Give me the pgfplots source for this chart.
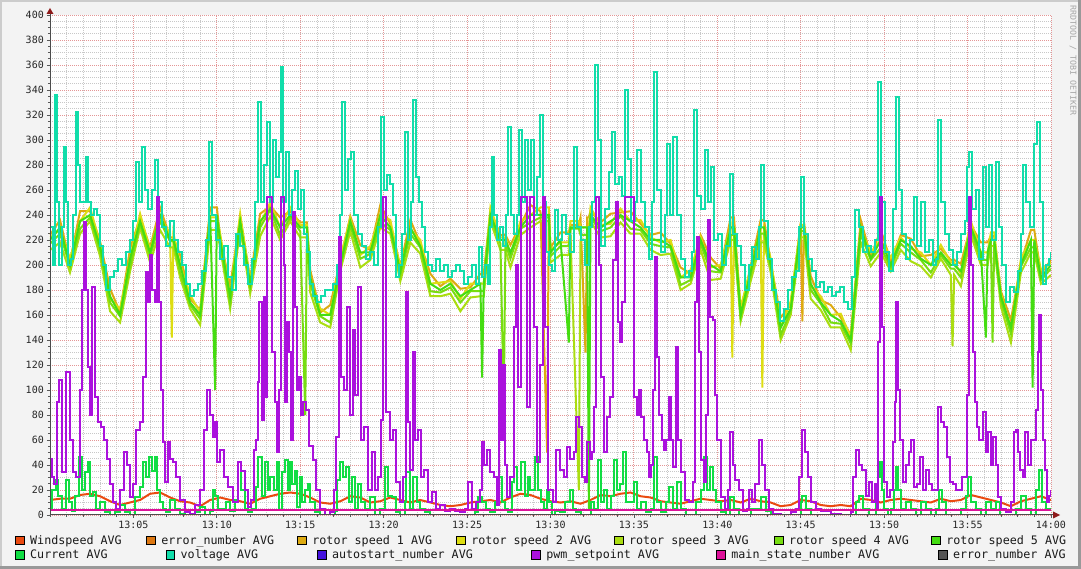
\documentclass[border=0pt]{standalone}
\usepackage{pgfplots}
\pgfplotsset{compat=1.18}
\usepackage{pgfplotstable}
\usepackage{fontspec}
\setmonofont{DejaVu Sans Mono}
\definecolor{cBg}{HTML}{F3F3F3}
\definecolor{cWind}{HTML}{EA4A10}
\definecolor{cErrA}{HTML}{DD7711}
\definecolor{cR1}{HTML}{DDAA11}
\definecolor{cR2}{HTML}{DDDD11}
\definecolor{cR3}{HTML}{AADD11}
\definecolor{cR4}{HTML}{77DD11}
\definecolor{cR5}{HTML}{44DD11}
\definecolor{cCur}{HTML}{11DD44}
\definecolor{cVolt}{HTML}{11DDAA}
\definecolor{cAuto}{HTML}{4411DD}
\definecolor{cPwm}{HTML}{AA11DD}
\definecolor{cMain}{HTML}{DD1199}
\definecolor{cErrB}{HTML}{555555}
\definecolor{cArrow}{HTML}{8E1A1A}

\pgfplotstableread{
t r1 r2 r3 r4 r5
0.0 224 222 212 217 220
0.6 236 228 218 225 230
1.2 202 205 194 199 200
1.8 243 235 225 229 235
2.4 243 246 235 238 240
3.0 219 217 207 212 215
3.6 181 173 163 170 175
4.2 162 165 154 159 160
4.8 213 205 195 199 205
5.4 238 241 230 233 235
6.0 214 212 202 207 210
6.6 246 238 228 235 240
7.2 222 225 214 219 220
7.3 222 142 214 219 220
7.4 222 225 214 219 220
7.8 208 200 190 194 200
8.4 173 176 165 168 170
9.0 164 162 152 157 160
9.6 246 238 228 235 240
9.9 246 238 228 235 100
10.0 246 238 228 235 240
10.2 222 225 214 219 220
10.8 183 175 165 169 175
11.4 238 241 230 233 235
12.0 189 187 177 182 185
12.6 241 233 223 230 235
13.2 247 250 239 244 245
13.8 238 230 220 224 230
14.4 243 246 235 238 240
15.0 234 232 222 227 230
15.3 234 232 222 80 230
15.4 234 232 222 227 230
15.6 196 188 178 185 190
16.2 162 165 154 159 160
16.8 168 160 150 154 160
17.4 203 206 195 198 200
18.0 239 237 227 232 235
18.6 216 208 198 205 210
19.2 212 215 204 209 210
19.8 248 240 230 234 240
20.4 233 236 225 228 230
21.0 199 197 187 192 195
21.6 236 228 218 225 230
22.2 217 220 209 214 215
22.8 193 185 175 179 185
23.4 183 186 175 178 180
24.0 189 187 177 182 185
24.6 181 173 163 170 175
25.2 182 185 174 179 180
25.8 193 185 175 179 185
25.9 193 185 175 179 110
26.0 193 185 175 179 185
26.4 243 246 235 238 240
27.0 224 222 212 217 220
27.2 224 222 212 88 220
27.3 224 222 212 217 220
27.6 216 208 198 205 210
28.2 232 235 224 229 230
28.8 248 240 230 234 240
29.4 243 246 235 238 240
29.8 50 246 235 238 240
29.9 243 246 235 238 240
30.0 214 212 202 207 210
30.6 226 218 208 215 220
31.1 226 218 208 215 138
31.2 232 235 224 229 230
31.7 232 235 20 229 230
31.8 238 230 220 224 230
32.1 130 230 220 224 230
32.2 238 230 220 224 230
32.3 238 230 220 224 5
32.4 243 246 235 238 240
33.0 234 232 222 227 230
33.6 241 233 223 230 235
34.2 242 245 234 239 240
34.8 243 235 225 229 235
35.4 233 236 225 228 230
36.0 224 222 212 217 220
36.6 226 218 208 215 220
37.2 217 220 209 214 215
37.8 198 190 180 184 190
38.4 193 196 185 188 190
39.0 224 222 212 217 220
39.6 206 198 188 195 200
40.2 197 200 189 194 195
40.8 238 230 220 224 230
40.9 238 126 220 224 230
41.0 238 230 220 224 230
41.4 163 166 155 158 160
42.0 199 197 187 192 195
42.6 236 228 218 225 230
42.7 236 102 218 225 230
42.8 236 228 218 225 230
43.2 202 205 194 199 200
43.8 158 150 140 144 150
44.4 168 171 160 163 165
45.0 234 232 222 227 230
45.1 155 232 222 227 230
45.2 234 232 222 227 230
45.6 191 183 173 180 185
46.2 172 175 164 169 170
46.8 168 160 150 154 160
47.4 158 161 150 153 155
48.0 144 142 132 137 140
48.6 236 228 218 225 230
49.2 207 210 199 204 205
49.8 228 220 210 214 220
50.4 203 206 195 198 200
51.0 224 222 212 217 220
51.6 221 213 203 210 215
52.2 207 210 199 204 205
52.8 208 200 190 194 200
53.4 213 216 205 208 210
54.0 204 202 192 197 200
54.1 204 202 135 197 200
54.2 204 202 192 197 200
54.6 201 193 183 190 195
55.2 232 235 224 229 230
55.8 218 210 200 204 210
56.1 218 210 200 204 142
56.2 218 210 200 204 210
56.4 223 226 215 218 220
56.5 223 226 215 138 220
56.6 223 226 215 218 220
57.0 179 177 167 172 175
57.6 156 148 138 145 150
58.2 202 205 194 199 200
58.8 228 220 210 214 220
58.9 228 220 210 214 102
59.0 228 220 210 214 220
59.4 193 196 185 188 190
60.0 204 202 192 197 200
}\rotors

\pgfplotstableread{
t w
0.0 12
0.6 13
1.2 13
1.8 16
2.4 17
3.0 15
3.6 11
4.2 8
4.8 10
5.4 12
6.0 17
6.6 18
7.2 14
7.8 11
8.4 10
9.0 7
9.6 12
10.2 14
10.8 12
11.4 11
12.0 9
12.6 13
13.2 15
13.8 17
14.4 18
15.0 17
15.6 14
16.2 10
16.8 9
17.4 11
18.0 15
18.6 14
19.2 10
19.8 11
20.4 14
21.0 12
21.6 10
22.2 12
22.8 10
23.4 8
24.0 7
24.6 8
25.2 10
25.8 11
26.4 12
27.0 10
27.6 14
28.2 17
28.8 16
29.4 13
30.0 11
30.6 10
31.2 11
31.8 9
32.4 12
33.0 16
33.6 15
34.2 17
34.8 18
35.4 15
36.0 14
36.6 11
37.2 10
37.8 9
38.4 11
39.0 13
39.6 12
40.2 11
40.8 12
41.4 10
42.0 13
42.6 11
43.2 10
43.8 7
44.4 8
45.0 12
45.6 11
46.2 8
46.8 7
47.4 8
48.0 7
48.6 13
49.2 12
49.8 10
50.4 12
51.0 13
51.6 12
52.2 11
52.8 10
53.4 13
54.0 11
54.6 12
55.2 16
55.8 14
56.4 12
57.0 10
57.6 7
58.2 11
58.8 13
59.4 15
60.0 12
}\wind

\begin{document}
\begin{tikzpicture}
\useasboundingbox (0,0) rectangle (1081pt,569pt);
\fill[cBg] (0,0) rectangle (1081pt,569pt);
\draw[black!20, line width=2pt] (1pt,0) -- (1pt,568pt) -- (1081pt,568pt);
\draw[black!40, line width=3pt] (0,1.5pt) -- (1079.5pt,1.5pt) -- (1079.5pt,569pt);

\begin{axis}[
  at={(50pt,54pt)}, anchor=south west,
  width=1001pt, height=500pt, scale only axis,
  xmin=0, xmax=60, ymin=0, ymax=400,
  axis line style={draw=none},
  axis background/.style={fill=white},
  xtick={5,10,...,60},
  xticklabels={13:05,13:10,13:15,13:20,13:25,13:30,13:35,13:40,13:45,13:50,13:55,14:00},
  minor xtick={0,1,...,60},
  ytick={0,20,...,400},
  minor ytick={0,5,...,400},
  grid=both,
  major grid style={draw={rgb,255:red,228;green,150;blue,150}, line width=0.8pt, dash pattern=on 1pt off 1pt},
  minor grid style={draw={rgb,255:red,200;green,200;blue,200}, line width=0.8pt, dash pattern=on 1pt off 1pt},
  tick pos=left,
  tick align=outside,
  major tick length=3pt, minor tick length=2pt,
  tick style={draw=black!65, line width=0.7pt},
  ticklabel style={font=\ttfamily\fontsize{10}{11}\selectfont, text=black!85},
  /pgf/number format/assume math mode=true,
  yticklabel style={inner sep=0pt, xshift=-3pt},
  xticklabel style={inner sep=0pt, yshift=-3pt},
  every axis plot post/.append style={line width=2pt, mark=none, line join=miter},
]
\addplot[cWind, sharp plot] table[x=t,y=w] {\wind};
\addplot[cErrA] coordinates {(0,0) (60,0)};
\addplot[cR1, sharp plot] table[x=t,y=r1] {\rotors};
\addplot[cR2, sharp plot] table[x=t,y=r2] {\rotors};
\addplot[cR3, sharp plot] table[x=t,y=r3] {\rotors};
\addplot[cR4, sharp plot] table[x=t,y=r4] {\rotors};
\addplot[cR5, sharp plot] table[x=t,y=r5] {\rotors};
\addplot[cCur, const plot] coordinates {
(0,5)(0.12,20)(0.36,28)(0.48,15)(0.72,5)(0.96,28)(1.14,10)(1.32,3)(1.5,15)(1.74,46)(1.92,20)(2.1,34)(2.28,42)(2.4,15)(2.58,18)(2.76,5)(3.0,10)(3.3,2)(3.6,0)(3.9,2)(4.2,8)(4.5,2)(4.8,0)(5.1,14)(5.4,22)(5.58,42)(5.76,30)(5.94,46)(6.12,35)(6.3,46)(6.42,20)(6.6,10)(6.78,5)(6.96,2)(7.2,12)(7.5,5)(7.8,1)(8.1,0)(8.7,2)(9.0,6)(9.3,0)(9.6,3)(9.78,20)(9.9,15)(10.08,5)(10.32,5)(10.56,10)(10.8,3)(11.1,12)(11.28,42)(11.46,20)(11.7,5)(11.88,2)(12.12,5)(12.36,22)(12.48,46)(12.72,15)(12.9,42)(13.08,20)(13.2,30)(13.44,20)(13.62,42)(13.74,4)(13.92,34)(14.1,44)(14.28,20)(14.4,42)(14.52,25)(14.7,35)(14.82,6)(15.0,30)(15.12,10)(15.3,20)(15.48,25)(15.6,10)(15.9,2)(16.2,0)(17.1,3)(17.22,28)(17.4,42)(17.58,30)(17.76,38)(17.94,10)(18.12,30)(18.3,5)(18.48,25)(18.66,10)(18.9,5)(19.2,14)(19.5,0)(19.8,5)(20.1,38)(20.28,15)(20.52,14)(20.76,2)(21.0,0)(21.3,10)(21.36,34)(21.6,5)(21.78,30)(22.02,10)(22.2,5)(22.5,2)(22.8,0)(25.5,2)(25.68,14)(25.92,10)(26.16,5)(26.4,2)(26.7,10)(26.88,30)(27.12,10)(27.3,5)(27.48,2)(27.72,26)(27.84,38)(28.02,20)(28.26,42)(28.5,15)(28.68,30)(28.8,20)(29.1,46)(29.28,20)(29.46,10)(29.64,5)(29.82,20)(29.94,10)(30.12,0)(30.3,3)(30.6,2)(30.9,10)(31.2,20)(31.32,5)(31.5,2)(31.8,0)(32.1,0)(32.4,10)(32.58,5)(32.82,44)(33.0,10)(33.18,20)(33.36,5)(33.6,15)(33.78,44)(33.96,20)(34.14,25)(34.32,50)(34.5,10)(34.8,10)(34.98,26)(35.16,5)(35.4,10)(35.7,2)(36.0,5)(36.18,46)(36.36,10)(36.6,2)(36.9,10)(37.08,22)(37.32,5)(37.56,26)(37.8,5)(38.1,0)(38.4,0)(38.7,10)(39.0,20)(39.18,46)(39.36,20)(39.54,38)(39.72,20)(39.9,10)(40.2,2)(40.5,0)(40.74,14)(40.98,5)(41.28,0)(42.0,5)(42.6,14)(42.9,3)(43.2,0)(44.7,0)(45.0,10)(45.06,15)(45.3,5)(45.6,0)(48.0,0)(48.3,10)(48.48,15)(48.72,5)(49.08,0)(49.5,10)(49.62,30)(49.74,42)(49.86,20)(49.98,5)(50.22,0)(50.4,5)(50.58,20)(50.7,38)(50.82,20)(51.0,5)(51.3,10)(51.6,5)(51.9,0)(52.2,10)(52.5,5)(52.8,0)(53.1,5)(53.28,20)(53.46,10)(53.7,0)(54.6,5)(54.9,15)(55.02,30)(55.2,10)(55.5,5)(55.8,0)(56.1,10)(56.4,5)(56.7,10)(56.94,0)(57.9,5)(58.2,15)(58.5,5)(58.8,0)(59.1,20)(59.28,36)(59.46,10)(59.7,5)(60.0,5)
};
\addplot[cVolt, const plot] coordinates {
(0,230)(0.18,200)(0.3,336)(0.42,250)(0.54,200)(0.72,230)(0.84,294)(0.96,250)(1.08,200)(1.26,205)(1.38,240)(1.56,322)(1.68,280)(1.8,250)(1.98,250)(2.16,286)(2.28,250)(2.46,240)(2.64,245)(2.82,240)(3.0,215)(3.18,200)(3.36,180)(3.6,190)(3.84,195)(4.08,205)(4.32,200)(4.56,210)(4.8,220)(4.98,235)(5.16,282)(5.34,250)(5.52,294)(5.7,260)(5.88,245)(6.12,260)(6.3,284)(6.48,250)(6.72,230)(6.96,215)(7.2,235)(7.44,220)(7.68,210)(7.92,200)(8.16,185)(8.4,175)(8.64,180)(8.88,185)(9.12,195)(9.36,220)(9.54,298)(9.72,240)(9.96,220)(10.2,205)(10.44,215)(10.68,190)(10.92,180)(11.16,225)(11.4,215)(11.64,200)(11.88,185)(12.12,205)(12.3,250)(12.48,330)(12.66,250)(12.84,280)(13.02,314)(13.2,250)(13.38,300)(13.56,270)(13.74,290)(13.86,358)(13.98,250)(14.16,290)(14.34,240)(14.52,260)(14.7,275)(14.88,245)(15.06,260)(15.24,225)(15.42,210)(15.6,185)(15.78,175)(16.02,170)(16.26,175)(16.5,180)(16.74,180)(16.98,185)(17.22,200)(17.4,240)(17.52,330)(17.7,260)(17.88,285)(18.06,290)(18.24,240)(18.48,225)(18.72,215)(18.96,205)(19.2,210)(19.44,200)(19.68,230)(19.86,318)(20.04,260)(20.22,272)(20.4,265)(20.58,240)(20.76,190)(20.94,200)(21.12,225)(21.3,306)(21.48,220)(21.66,250)(21.78,332)(21.96,270)(22.14,250)(22.32,230)(22.5,210)(22.68,200)(22.92,195)(23.16,205)(23.4,195)(23.64,200)(23.88,190)(24.12,195)(24.36,200)(24.6,195)(24.84,185)(25.08,190)(25.32,200)(25.56,185)(25.74,214)(25.92,190)(26.1,200)(26.28,185)(26.4,230)(26.52,286)(26.64,240)(26.82,220)(27.0,230)(27.18,215)(27.36,240)(27.48,310)(27.66,240)(27.84,225)(28.02,240)(28.14,308)(28.32,250)(28.5,300)(28.68,260)(28.86,300)(29.04,240)(29.22,270)(29.4,320)(29.58,250)(29.76,210)(29.94,200)(30.12,195)(30.3,244)(30.48,220)(30.72,240)(30.96,225)(31.2,210)(31.38,294)(31.56,230)(31.8,220)(32.04,200)(32.28,230)(32.46,250)(32.64,360)(32.82,300)(33.0,215)(33.24,245)(33.48,274)(33.66,306)(33.84,265)(34.08,270)(34.26,255)(34.44,340)(34.62,285)(34.8,235)(35.04,250)(35.16,292)(35.4,250)(35.64,230)(35.88,205)(36.06,250)(36.18,354)(36.36,260)(36.6,210)(36.84,240)(36.96,297)(37.14,240)(37.32,302)(37.56,240)(37.8,205)(38.04,190)(38.28,195)(38.46,210)(38.58,324)(38.76,255)(39.0,245)(39.24,292)(39.42,250)(39.6,278)(39.78,220)(40.02,225)(40.26,200)(40.5,215)(40.74,273)(40.92,225)(41.16,215)(41.4,200)(41.64,180)(41.88,200)(42.06,214)(42.3,205)(42.48,230)(42.6,280)(42.78,235)(43.02,205)(43.26,180)(43.5,170)(43.74,155)(43.98,165)(44.22,180)(44.46,190)(44.7,195)(44.88,230)(45.0,270)(45.18,225)(45.42,205)(45.66,195)(45.9,182)(46.14,186)(46.38,178)(46.62,182)(46.86,175)(47.1,178)(47.34,182)(47.58,170)(47.82,165)(48.06,190)(48.24,244)(48.48,230)(48.72,210)(48.96,215)(49.2,210)(49.44,220)(49.62,346)(49.8,250)(50.04,210)(50.28,195)(50.52,245)(50.7,334)(50.88,260)(51.06,225)(51.3,205)(51.54,220)(51.78,254)(51.98,215)(52.2,250)(52.44,210)(52.68,220)(52.92,200)(53.1,205)(53.22,316)(53.4,250)(53.64,225)(53.88,212)(54.12,200)(54.36,210)(54.6,225)(54.84,235)(54.96,278)(55.08,290)(55.26,245)(55.5,260)(55.68,205)(55.92,278)(56.1,230)(56.28,280)(56.46,220)(56.7,282)(56.88,230)(57.06,200)(57.3,170)(57.54,182)(57.78,178)(58.02,195)(58.2,225)(58.32,280)(58.5,250)(58.74,230)(58.98,297)(59.16,314)(59.34,250)(59.52,185)(59.7,200)(59.88,205)(60.0,210)
};
\addplot[cAuto] coordinates {(0,0) (60,0)};
\addplot[cPwm, const plot] coordinates {
(0,45)(0.12,30)(0.24,25)(0.42,90)(0.54,108)(0.72,34)(0.96,114)(1.2,60)(1.38,34)(1.56,30)(1.8,100)(1.92,180)(2.04,234)(2.16,180)(2.28,118)(2.4,80)(2.52,182)(2.7,94)(2.88,74)(3.06,70)(3.24,60)(3.42,45)(3.6,25)(3.78,10)(3.96,5)(4.2,20)(4.44,50)(4.62,40)(4.8,14)(4.98,25)(5.16,68)(5.4,74)(5.58,110)(5.76,194)(5.88,170)(6.0,208)(6.12,180)(6.3,170)(6.42,254)(6.54,170)(6.66,100)(6.78,58)(6.9,26)(7.08,58)(7.2,45)(7.38,42)(7.56,30)(7.8,12)(8.1,2)(8.4,1)(8.7,8)(9.0,20)(9.24,68)(9.42,100)(9.6,80)(9.78,62)(9.9,74)(10.02,42)(10.2,52)(10.44,30)(10.68,22)(10.98,10)(11.28,42)(11.46,35)(11.7,20)(11.88,6)(12.06,12)(12.24,52)(12.36,60)(12.48,106)(12.54,170)(12.72,76)(12.84,174)(12.96,94)(13.02,254)(13.32,130)(13.5,90)(13.62,50)(13.74,100)(13.86,254)(14.04,200)(14.1,90)(14.22,154)(14.34,130)(14.46,60)(14.58,242)(14.7,166)(14.82,100)(14.94,110)(15.06,80)(15.18,90)(15.36,84)(15.54,55)(15.78,44)(15.96,20)(16.2,5)(16.5,0)(16.8,2)(17.04,20)(17.16,62)(17.34,222)(17.46,110)(17.64,100)(17.82,166)(18.0,80)(18.18,148)(18.3,96)(18.48,182)(18.66,60)(18.84,70)(19.08,20)(19.32,50)(19.5,20)(19.68,30)(19.86,76)(19.98,254)(20.16,82)(20.4,60)(20.58,68)(20.76,26)(21.0,10)(21.18,30)(21.36,178)(21.48,74)(21.6,36)(21.78,130)(21.9,60)(22.08,68)(22.26,30)(22.44,36)(22.68,10)(22.92,18)(23.16,5)(23.4,8)(23.7,3)(24.0,5)(24.3,3)(24.6,2)(24.9,5)(25.08,26)(25.32,5)(25.56,10)(25.8,20)(25.92,58)(26.04,40)(26.22,52)(26.4,34)(26.64,30)(26.82,8)(26.94,132)(27.06,60)(27.18,120)(27.3,40)(27.42,14)(27.6,30)(27.84,150)(27.96,200)(28.08,102)(28.26,254)(28.5,254)(28.62,86)(28.8,254)(29.04,150)(29.22,42)(29.4,120)(29.58,254)(29.7,150)(29.88,20)(30.06,20)(30.18,10)(30.36,52)(30.6,36)(30.84,30)(31.02,54)(31.2,45)(31.38,50)(31.5,78)(31.68,70)(31.86,30)(32.04,26)(32.16,58)(32.34,45)(32.46,50)(32.58,86)(32.7,254)(32.88,200)(33.0,110)(33.18,50)(33.36,78)(33.54,94)(33.72,204)(33.9,250)(34.02,154)(34.14,138)(34.26,170)(34.44,254)(34.86,254)(34.98,94)(35.16,80)(35.28,100)(35.4,78)(35.58,60)(35.76,50)(35.88,30)(36.0,40)(36.12,100)(36.24,206)(36.36,126)(36.48,80)(36.66,60)(36.78,52)(36.9,60)(37.08,94)(37.2,60)(37.32,38)(37.5,134)(37.62,60)(37.8,34)(38.04,12)(38.28,10)(38.52,26)(38.64,170)(38.76,222)(38.88,130)(39.0,44)(39.18,26)(39.3,80)(39.42,236)(39.54,158)(39.72,156)(39.84,96)(39.96,60)(40.08,60)(40.2,14)(40.44,5)(40.62,20)(40.74,66)(40.92,40)(41.04,28)(41.28,20)(41.52,3)(41.76,5)(41.88,20)(42.06,10)(42.24,25)(42.48,60)(42.66,40)(42.84,20)(43.08,5)(43.32,1)(43.8,0)(44.4,2)(44.7,5)(44.88,30)(45.06,68)(45.24,50)(45.42,30)(45.6,10)(45.9,5)(46.2,3)(46.8,1)(47.4,0)(48.0,2)(48.12,30)(48.3,52)(48.48,40)(48.66,36)(48.9,15)(49.08,26)(49.26,10)(49.44,25)(49.56,5)(49.62,138)(49.74,254)(49.86,150)(49.98,26)(50.16,14)(50.34,20)(50.52,58)(50.64,90)(50.7,170)(50.82,100)(50.94,60)(51.12,26)(51.3,40)(51.48,50)(51.6,60)(51.78,22)(51.96,25)(52.14,46)(52.32,20)(52.5,36)(52.68,25)(52.86,20)(53.1,20)(53.22,86)(53.4,74)(53.58,70)(53.76,46)(53.94,26)(54.12,25)(54.3,20)(54.48,20)(54.66,30)(54.84,30)(54.96,96)(55.08,254)(55.2,200)(55.32,130)(55.44,90)(55.56,70)(55.68,60)(55.8,60)(55.92,82)(56.1,50)(56.22,66)(56.4,40)(56.52,62)(56.7,40)(56.82,14)(57.0,5)(57.3,2)(57.6,10)(57.78,66)(57.9,68)(58.02,50)(58.14,36)(58.32,30)(58.44,66)(58.62,40)(58.8,60)(58.98,60)(59.1,84)(59.22,130)(59.28,160)(59.4,100)(59.52,60)(59.64,36)(59.76,10)(59.88,15)(60.0,20)
};
\addplot[cMain] coordinates {(0,4) (60,4)};
\addplot[cErrB] coordinates {(0,0) (60,0)};
\end{axis}

% axes lines and arrows
\draw[black!70, line width=1pt] (50pt,54pt) -- (1055pt,54pt);
\draw[black!70, line width=1pt] (50pt,54pt) -- (50pt,557pt);
\fill[cArrow] (1060pt,54pt) -- (1053pt,57.5pt) -- (1053pt,50.5pt) -- cycle;
\fill[cArrow] (50pt,561pt) -- (46.5pt,555pt) -- (53.5pt,555pt) -- cycle;

% watermark
\node[rotate=-90, anchor=west, inner sep=0pt, font=\ttfamily\fontsize{8.3}{9}\selectfont, text=black!35] at (1073pt,564pt) {RRDTOOL / TOBI OETIKER};

% legend
\newcommand{\lgd}[4]{%
  \fill[#3] (#1pt,#2pt) rectangle ++(8.7pt,8.7pt);
  \draw[black, line width=0.8pt] (#1pt,#2pt) rectangle ++(8.7pt,8.7pt);
  \node[anchor=base west, inner sep=0pt, font=\ttfamily\fontsize{11.7}{13}\selectfont, text=black!90] at (#1pt+14.5pt,#2pt) {#4};}
\lgd{15.5}{24.3}{cWind}{Windspeed AVG}
\lgd{146.7}{24.3}{cErrA}{error\_number AVG}
\lgd{297.7}{24.3}{cR1}{rotor speed 1 AVG}
\lgd{456.7}{24.3}{cR2}{rotor speed 2 AVG}
\lgd{614.3}{24.3}{cR3}{rotor speed 3 AVG}
\lgd{774.5}{24.3}{cR4}{rotor speed 4 AVG}
\lgd{931.7}{24.3}{cR5}{rotor speed 5 AVG}
\lgd{15.5}{10}{cCur}{Current AVG}
\lgd{166}{10}{cVolt}{voltage AVG}
\lgd{317.3}{10}{cAuto}{autostart\_number AVG}
\lgd{531.7}{10}{cPwm}{pwm\_setpoint AVG}
\lgd{716.7}{10}{cMain}{main\_state\_number AVG}
\lgd{938.3}{10}{cErrB}{error\_number AVG}
\end{tikzpicture}
\end{document}
